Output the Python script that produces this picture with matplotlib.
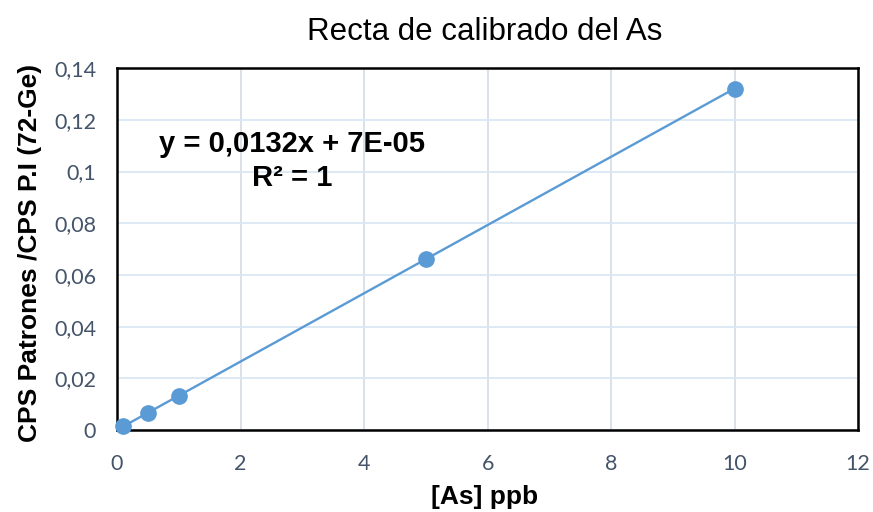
import matplotlib
matplotlib.use("Agg")
import matplotlib.pyplot as plt
import numpy as np

conc = [0.1, 0.5, 1, 5, 10]
ratio = [0.0014, 0.0067, 0.0133, 0.0661, 0.1321]
x_ticks = [0, 2, 4, 6, 8, 10, 12]
y_ticks = [0, 0.02, 0.04, 0.06, 0.08, 0.10, 0.12, 0.14]
y_tick_labels = ["0", "0,02", "0,04", "0,06", "0,08", "0,1", "0,12", "0,14"]
title = "Recta de calibrado del As"
xlabel = "[As] ppb"
ylabel = "CPS Patrones /CPS P.I (72-Ge)"
eq_line1 = "y = 0,0132x + 7E-05"
eq_line2 = "R² = 1"

blue = "#5B9BD5"
tick_color = "#44546A"

fig = plt.figure(figsize=(8.73, 5.12), dpi=100)
ax = fig.add_axes([0.134, 0.160, 0.849, 0.707])

ax.set_xlim(0, 12)
ax.set_ylim(0, 0.14)
ax.set_xticks(x_ticks)
ax.set_xticklabels([str(t) for t in x_ticks])
ax.set_yticks(y_ticks)
ax.set_yticklabels(y_tick_labels)
ax.tick_params(length=0, labelsize=15.5, colors=tick_color)
ax.tick_params(axis="y", pad=15)
ax.tick_params(axis="x", pad=17)
for lab in ax.get_xticklabels() + ax.get_yticklabels():
    lab.set_family("Lato")

ax.yaxis.grid(True, color="#DAE8F5", linewidth=1.3)
ax.xaxis.grid(True, color="#D9DEE6", linewidth=1.3)
ax.set_axisbelow(True)
for s in ax.spines.values():
    s.set_color("black")
    s.set_linewidth(1.8)

c = np.polyfit(conc, ratio, 1)
xl = np.array([min(conc), max(conc)])
ax.plot(xl, np.polyval(c, xl), color=blue, linewidth=1.7, zorder=3)
ax.plot(conc, ratio, "o", color=blue, markersize=11, zorder=4, clip_on=False)

ax.text(2.83, 0.1105, eq_line1, ha="center", va="center", fontsize=21,
        fontweight="bold", family="Liberation Sans")
ax.text(2.83, 0.0975, eq_line2, ha="center", va="center", fontsize=21,
        fontweight="bold", family="Liberation Sans")

fig.text(0.555, 0.9375, title, ha="center", va="center", fontsize=22.5,
         family="Liberation Sans", color="black")
fig.text(0.555, 1 - 497 / 512, xlabel, ha="center", va="center", fontsize=19,
         fontweight="bold", family="Liberation Sans")
fig.text(30 / 873, 1 - 253 / 512, ylabel, ha="center", va="center", fontsize=19,
         fontweight="bold", family="Liberation Sans", rotation=90)

fig.savefig("out.png", dpi=100)
